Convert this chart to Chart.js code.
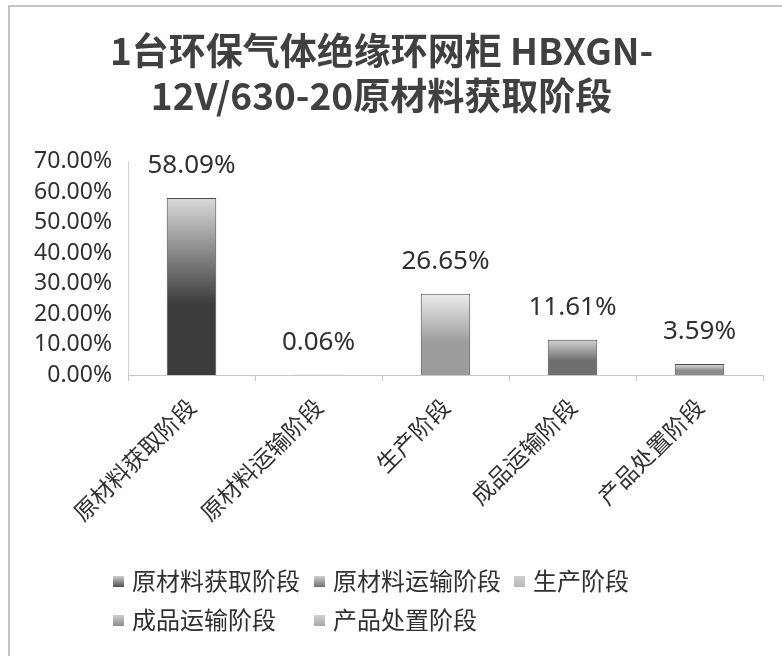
<!DOCTYPE html>
<html>
<head>
<meta charset="utf-8">
<script src="https://cdn.jsdelivr.net/npm/chart.js@4.4.1/dist/chart.umd.min.js"></script>
<style>
html,body{margin:0;padding:0;background:#fff;}
#wrap{position:relative;width:782px;height:656px;}
</style>
</head>
<body>
<div id="wrap"><canvas id="c" width="782" height="656"></canvas></div>
<script>
const titleLines = ["1台环保气体绝缘环网柜 HBXGN-", "12V/630-20原材料获取阶段"];
const categories = ["原材料获取阶段", "原材料运输阶段", "生产阶段", "成品运输阶段", "产品处置阶段"];
const values = [58.09, 0.06, 26.65, 11.61, 3.59];
const yTicks = [0, 10, 20, 30, 40, 50, 60, 70];

const FONT = "'Noto Sans', 'Noto Sans CJK SC', sans-serif";
const CJK = "'Noto Sans CJK SC', 'Noto Sans', sans-serif";
// gradient stops [top, bottom] per bar
const barShades = [["#dadada", "#3c3c3c"], ["#bbbbbb", "#6a6a6a"], ["#ececec", "#9c9c9c"], ["#d4d4d4", "#6e6e6e"], ["#e2e2e2", "#8c8c8c"]];
const legendShades = ["#505050", "#707070", "#b8b8b8", "#8a8a8a", "#a8a8a8"];

function barGradient(ctx) {
  const chart = ctx.chart;
  const area = chart.chartArea;
  if (!area || ctx.dataIndex === undefined) return "#888";
  const y = chart.scales.y;
  const top = y.getPixelForValue(ctx.raw);
  const bot = y.getPixelForValue(0);
  const s = barShades[ctx.dataIndex];
  const g = chart.ctx.createLinearGradient(0, Math.min(top, bot - 1), 0, bot);
  g.addColorStop(0, s[0]);
  g.addColorStop(0.6, s[1]);
  g.addColorStop(1, s[1]);
  return g;
}

const framePlugin = {
  id: "frame",
  beforeDraw(chart) {
    const c = chart.ctx;
    c.save();
    c.fillStyle = "#fff";
    c.fillRect(0, 0, chart.width, chart.height);
    c.strokeStyle = "#b0b0b0";
    c.lineWidth = 1.5;
    c.beginPath();
    c.moveTo(9, chart.height);
    c.lineTo(9, 6);
    c.lineTo(chart.width, 6);
    c.stroke();
    c.restore();
  }
};

const labelPlugin = {
  id: "valueLabels",
  afterDatasetsDraw(chart) {
    const c = chart.ctx;
    const meta = chart.getDatasetMeta(0);
    c.save();
    c.font = "26px " + FONT;
    c.fillStyle = "#303030";
    c.textAlign = "center";
    c.textBaseline = "middle";
    meta.data.forEach((bar, i) => {
      c.fillText(values[i].toFixed(2) + "%", bar.x, bar.y - 32);
    });
    c.restore();
  }
};

const legendPlugin = {
  id: "gridLegend",
  afterDraw(chart) {
    const c = chart.ctx;
    c.save();
    c.font = "24px " + CJK;
    c.textBaseline = "middle";
    const colX = [113, 314, 514];
    const rowY = [581, 620];
    categories.forEach((name, i) => {
      const col = i < 3 ? i : i - 3;
      const row = i < 3 ? 0 : 1;
      const x = colX[col], y = rowY[row];
      const g = c.createLinearGradient(0, y - 5, 0, y + 6);
      g.addColorStop(0, "#cfcfcf");
      g.addColorStop(1, legendShades[i]);
      c.fillStyle = g;
      c.fillRect(x, y - 5, 11, 11);
      c.fillStyle = "#303030";
      c.fillText(name, x + 19, y);
    });
    c.restore();
  }
};

new Chart(document.getElementById("c"), {
  type: "bar",
  data: {
    labels: categories,
    datasets: [{
      data: values,
      backgroundColor: barGradient,
      borderColor: "#4a4a4a",
      borderWidth: 1,
      categoryPercentage: 1,
      barPercentage: 0.39
    }]
  },
  options: {
    responsive: false,
    animation: false,
    layout: { padding: { left: 0, right: 19, top: 0, bottom: 130 } },
    plugins: {
      legend: { display: false },
      tooltip: { enabled: false },
      title: {
        display: true,
        text: titleLines,
        color: "#404040",
        font: { family: CJK, size: 37, weight: "bold", lineHeight: 1.2 },
        padding: { top: 29, bottom: 44 }
      }
    },
    scales: {
      y: {
        min: 0, max: 70,
        afterBuildTicks(scale) { scale.ticks = yTicks.map(v => ({ value: v })); },
        afterFit(scale) { scale.width = 128; },
        ticks: {
          color: "#303030",
          font: { family: FONT, size: 23, lineHeight: 1 },
          autoSkip: false,
          padding: 10,
          callback: v => v.toFixed(2) + "%"
        },
        grid: { display: false, drawTicks: true, tickLength: 6, color: "#c8c8c8" },
        border: { display: true, color: "#d0d0d0" }
      },
      x: {
        afterFit(scale) { scale.height = 151; },
        ticks: {
          color: "#303030",
          font: { family: CJK, size: 23 },
          minRotation: 45, maxRotation: 45,
          autoSkip: false,
          padding: 12
        },
        grid: { display: true, drawOnChartArea: false, offset: true, tickLength: 6, color: "#c8c8c8" },
        border: { display: true, color: "#c8c8c8" }
      }
    }
  },
  plugins: [framePlugin, labelPlugin, legendPlugin]
});
</script>
</body>
</html>
